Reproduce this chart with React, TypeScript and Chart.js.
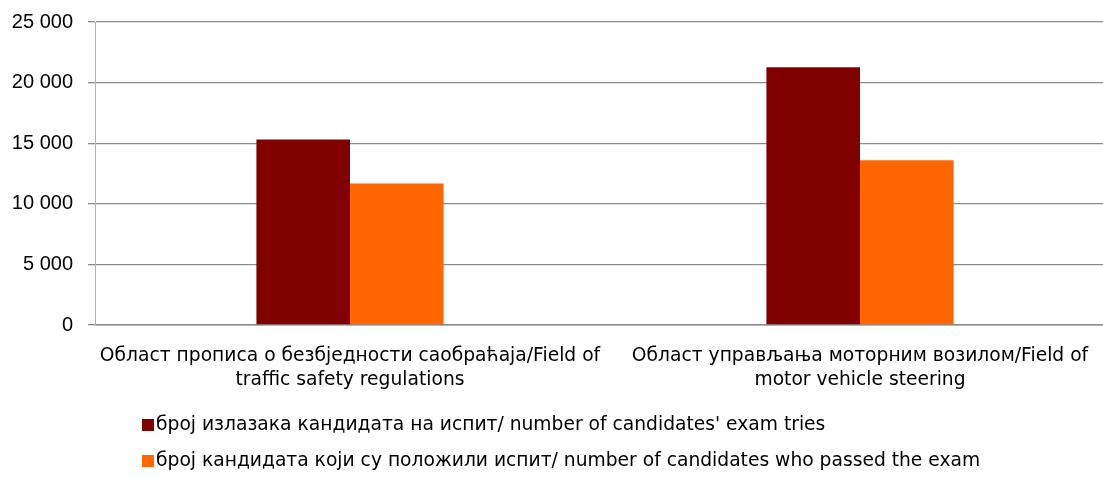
import React, { useEffect, useRef } from 'react';
import { Chart, registerables } from 'chart.js';

Chart.register(...registerables);

const categories: string[][] = [
  ['Област прописа о безбједности саобраћаја/Field of', 'traffic safety regulations'],
  ['Област управљања моторним возилом/Field of', 'motor vehicle steering'],
];
const seriesLabels: string[] = [
  "број излазака кандидата на испит/ number of candidates' exam tries",
  'број кандидата који су положили испит/ number of candidates who passed the exam',
];
const examTries: number[] = [15300, 21270];
const passedExam: number[] = [11680, 13600];
const seriesColors: string[] = ['#800000', '#FF6600'];
const yMin = 0;
const yMax = 25000;
const yStep = 5000;

const TEXT_FONT = '"DejaVu Sans", Verdana, sans-serif';
const NUM_FONT = '"Liberation Sans", Arial, sans-serif';

const formatThousands = (v: number) => String(v).replace(/\B(?=(\d{3})+(?!\d))/g, ' ');

const legendPlugin = {
  id: 'customLegend',
  afterDraw(chart: any) {
    const ctx = chart.ctx as CanvasRenderingContext2D;
    const rows = [425, 461];
    ctx.save();
    chart.data.datasets.forEach((ds: any, i: number) => {
      const y = rows[i];
      ctx.fillStyle = ds.backgroundColor;
      ctx.fillRect(142, y - 6, 12, 12);
      ctx.fillStyle = '#000000';
      ctx.font = `18.7px ${TEXT_FONT}`;
      ctx.textBaseline = 'middle';
      ctx.textAlign = 'left';
      ctx.fillText(ds.label, 156, y);
    });
    ctx.restore();
  },
};

export default function App() {
  const canvasRef = useRef<HTMLCanvasElement | null>(null);

  useEffect(() => {
    if (!canvasRef.current) return;
    const chart = new Chart(canvasRef.current, {
      type: 'bar',
      data: {
        labels: categories,
        datasets: [
          {
            label: seriesLabels[0],
            data: examTries,
            backgroundColor: seriesColors[0],
            categoryPercentage: 0.367,
            barPercentage: 1,
          },
          {
            label: seriesLabels[1],
            data: passedExam,
            backgroundColor: seriesColors[1],
            categoryPercentage: 0.367,
            barPercentage: 1,
          },
        ],
      },
      options: {
        responsive: false,
        animation: false,
        layout: { padding: { top: 22, right: 0, bottom: 72, left: 0 } },
        plugins: {
          legend: { display: false },
          tooltip: { enabled: false },
        },
        scales: {
          x: {
            grid: { display: false, drawTicks: false },
            border: { display: true, color: '#b4b4b4', width: 1 },
            ticks: {
              color: '#000000',
              font: { family: TEXT_FONT, size: 18.7, lineHeight: 1.24 },
              padding: 20,
              maxRotation: 0,
              autoSkip: false,
            },
            afterFit: (scale: any) => {
              scale.height = 80;
              scale.paddingLeft = 0;
              scale.paddingRight = 0;
            },
          },
          y: {
            min: yMin,
            max: yMax,
            grid: { color: '#8c8c8c', lineWidth: 1.3, tickLength: 7 },
            border: { display: true, color: '#b4b4b4', width: 1 },
            ticks: {
              stepSize: yStep,
              color: '#000000',
              font: { family: NUM_FONT, size: 20 },
              padding: 15,
              callback: (v: any) => formatThousands(Number(v)),
            },
            afterFit: (scale: any) => {
              scale.width = 95;
              scale.paddingTop = 0;
              scale.paddingBottom = 0;
            },
          },
        },
      },
      plugins: [legendPlugin],
    });
    return () => chart.destroy();
  }, []);

  return (
    <div style={{ position: 'absolute', left: 0, top: 0, width: 1103, height: 477, overflow: 'hidden', background: '#fff' }}>
      <canvas ref={canvasRef} width={1115} height={477} style={{ width: 1115, height: 477, display: 'block' }} />
    </div>
  );
}
